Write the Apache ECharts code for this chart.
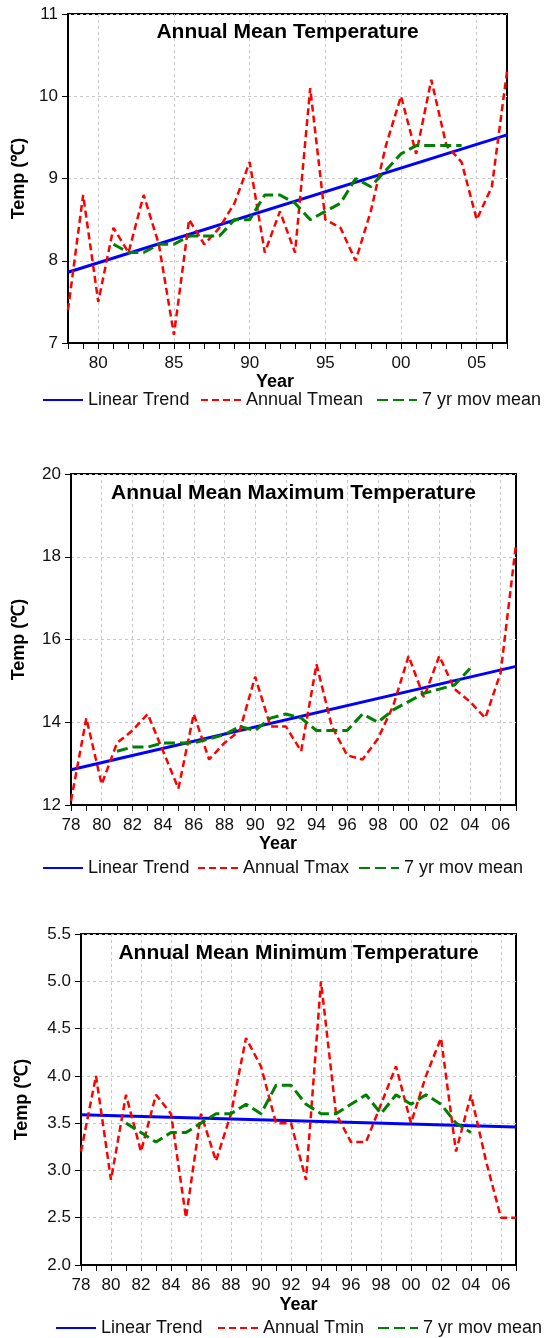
<!DOCTYPE html>
<html>
<head>
<meta charset="utf-8">
<script src="https://cdn.jsdelivr.net/npm/echarts@6/dist/echarts.min.js"></script>
<style>
html,body{margin:0;padding:0;background:#fff;}
#chart{width:550px;height:1338px;}
</style>
</head>
<body>
<div id="chart"></div>
<script>
// ---------- DATA ----------
const yearLabels = ['78','79','80','81','82','83','84','85','86','87','88','89','90','91','92','93','94','95','96','97','98','99','00','01','02','03','04','05','06','07'];

// Annual mean temperature
const tmean = [7.4, 8.8, 7.5, 8.4, 8.1, 8.8, 8.2, 7.1, 8.5, 8.2, 8.4, 8.7, 9.2, 8.1, 8.6, 8.1, 10.1, 8.5, 8.4, 8.0, 8.6, 9.4, 10.0, 9.3, 10.2, 9.4, 9.2, 8.5, 8.9, 10.3];
// 7 yr moving mean (1981-2004)
const maMean = [8.2, 8.1, 8.1, 8.2, 8.2, 8.3, 8.3, 8.3, 8.5, 8.5, 8.8, 8.8, 8.7, 8.5, 8.6, 8.7, 9.0, 8.9, 9.1, 9.3, 9.4, 9.4, 9.4, 9.4];
// linear trend, values at 1978 and 2007
const trendMean = [7.86, 9.53];

// Annual mean maximum temperature
const tmax = [12.1, 14.1, 12.5, 13.5, 13.8, 14.2, 13.3, 12.4, 14.2, 13.1, 13.5, 13.8, 15.1, 13.9, 13.9, 13.3, 15.4, 13.9, 13.2, 13.1, 13.6, 14.4, 15.6, 14.6, 15.6, 14.8, 14.5, 14.1, 15.2, 18.3];
const maMax = [13.3, 13.4, 13.4, 13.5, 13.5, 13.5, 13.6, 13.7, 13.9, 13.8, 14.1, 14.2, 14.1, 13.8, 13.8, 13.8, 14.2, 14.0, 14.3, 14.5, 14.7, 14.8, 14.9, 15.3];
const trendMax = [12.85, 15.35];

// Annual mean minimum temperature
const tmin = [3.2, 4.0, 2.9, 3.8, 3.2, 3.8, 3.6, 2.5, 3.6, 3.1, 3.6, 4.4, 4.1, 3.5, 3.5, 2.9, 5.0, 3.6, 3.3, 3.3, 3.7, 4.1, 3.5, 4.0, 4.4, 3.2, 3.8, 3.1, 2.5, 2.5];
const maMin = [3.5, 3.4, 3.3, 3.4, 3.4, 3.5, 3.6, 3.6, 3.7, 3.6, 3.9, 3.9, 3.7, 3.6, 3.6, 3.7, 3.8, 3.6, 3.8, 3.7, 3.8, 3.7, 3.5, 3.4];
const trendMin = [3.59, 3.46];

const maStart = 3; // moving mean starts at 1981 (index 3)

const panels = [
  {title:'Annual Mean Temperature', annual:'Annual Tmean', values:tmean, ma:maMean, trend:trendMean,
   yMin:7, yMax:11, yInt:1, dec:0, every:5,
   grid:{left:68, top:14, width:439, height:329},
   titleTop:22, nameGapY:35, namePadX:25, nameGapX:26,
   legendTop:391, legendX:[42, 200, 376]},
  {title:'Annual Mean Maximum Temperature', annual:'Annual Tmax', values:tmax, ma:maMax, trend:trendMax,
   yMin:12, yMax:20, yInt:2, dec:0, every:2,
   grid:{left:71, top:474, width:445, height:331},
   titleTop:483, nameGapY:43, namePadX:31, nameGapX:30,
   legendTop:859, legendX:[42, 197, 358]},
  {title:'Annual Mean Minimum Temperature', annual:'Annual Tmin', values:tmin, ma:maMin, trend:trendMin,
   yMin:2, yMax:5.5, yInt:0.5, dec:1, every:2,
   grid:{left:81, top:934, width:435, height:331},
   titleTop:943, nameGapY:50, namePadX:0, nameGapX:31,
   legendTop:1319, legendX:[55, 217, 377]}
];

const FONT = '"Liberation Sans", Arial, sans-serif';
const BLUE = '#0000ff', RED = '#ff0000', GREEN = '#008000';

const option = {
  animation:false,
  backgroundColor:'#fff',
  textStyle:{fontFamily:FONT},
  title:[], grid:[], xAxis:[], yAxis:[], series:[], legend:[]
};

panels.forEach((p, k) => {
  option.grid.push(Object.assign({show:true, borderColor:'#000', borderWidth:2, backgroundColor:'transparent'}, p.grid));
  option.title.push({
    text:p.title, left:p.grid.left + p.grid.width/2, top:p.titleTop, textAlign:'center', padding:0,
    textStyle:{fontFamily:FONT, fontSize:21, fontWeight:'bold', color:'#000'}
  });
  const showIdx = (idx) => (1978 + idx) % p.every === 0;
  option.xAxis.push({
    type:'category', gridIndex:k, data:yearLabels, boundaryGap:false,
    name:'Year', nameLocation:'middle', nameGap:p.nameGapX,
    nameTextStyle:{fontFamily:FONT, fontSize:18, fontWeight:'bold', color:'#000', padding:[0, p.namePadX, 0, 0]},
    axisLine:{show:true, onZero:false, lineStyle:{color:'#000', width:2}},
    axisTick:{show:true, interval:0, length:6, inside:false, lineStyle:{color:'#000', width:1}},
    axisLabel:{interval:(i) => showIdx(i), margin:12, fontFamily:FONT, fontSize:17, color:'#111'},
    splitLine:{show:true, interval:(i) => showIdx(i) && i > 0, lineStyle:{color:'#c8c8c8', type:[3,3], width:1}}
  });
  option.yAxis.push({
    type:'value', gridIndex:k, min:p.yMin, max:p.yMax, interval:p.yInt,
    name:'Temp (℃)', nameLocation:'middle', nameRotate:90, nameGap:p.nameGapY,
    nameTextStyle:{fontFamily:FONT, fontSize:18, fontWeight:'bold', color:'#000'},
    axisLine:{show:true, lineStyle:{color:'#000', width:2}},
    axisTick:{show:true, length:6, inside:false, lineStyle:{color:'#000', width:1}},
    axisLabel:{margin:10, fontFamily:FONT, fontSize:17, color:'#111', formatter:(v) => v.toFixed(p.dec)},
    splitLine:{show:true, lineStyle:{color:'#c8c8c8', type:[3,3], width:1}}
  });
  option.series.push({
    name:'Linear Trend', type:'line', xAxisIndex:k, yAxisIndex:k, symbol:'none', showSymbol:false,
    data:[[yearLabels[0], p.trend[0]], [yearLabels[yearLabels.length-1], p.trend[1]]],
    lineStyle:{color:BLUE, width:3, type:'solid'}, itemStyle:{color:BLUE}, z:2
  });
  option.series.push({
    name:p.annual, type:'line', xAxisIndex:k, yAxisIndex:k, symbol:'none', showSymbol:false,
    data:p.values,
    lineStyle:{color:RED, width:2.5, type:[7,4]}, itemStyle:{color:RED}, z:3
  });
  option.series.push({
    name:'7 yr mov mean', type:'line', xAxisIndex:k, yAxisIndex:k, symbol:'none', showSymbol:false,
    data:p.ma.map((v, i) => [yearLabels[i + maStart], v]),
    lineStyle:{color:GREEN, width:3, type:[11,5]}, itemStyle:{color:GREEN}, z:4
  });
  const names = ['Linear Trend', p.annual, '7 yr mov mean'];
  names.forEach((nm, j) => {
    option.legend.push({
      data:[nm], left:p.legendX[j], top:p.legendTop, padding:0, itemGap:0,
      itemWidth:40, itemHeight:14, selectedMode:false,
      itemStyle:{opacity:0},
      textStyle:{fontFamily:FONT, fontSize:18, color:'#111'}
    });
  });
});

const chart = echarts.init(document.getElementById('chart'), null, {renderer:'canvas'});
chart.setOption(option);
</script>
</body>
</html>
